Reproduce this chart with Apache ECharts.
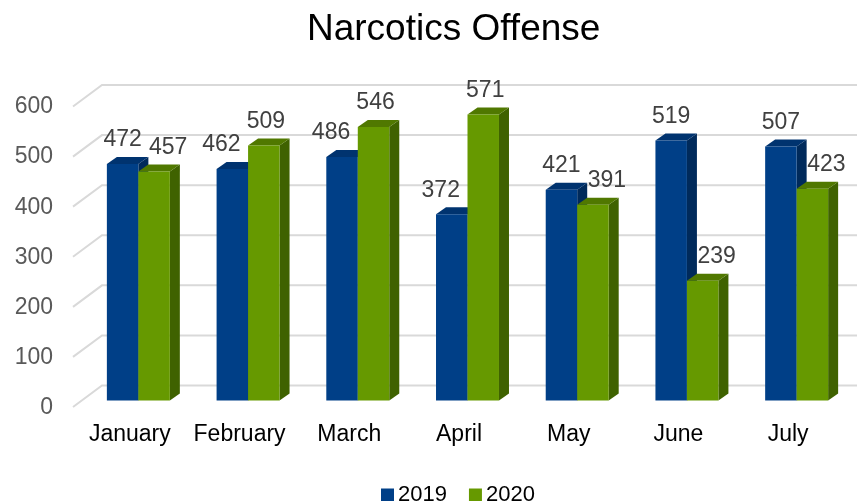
<!DOCTYPE html>
<html>
<head>
<meta charset="utf-8">
<script src="https://cdn.jsdelivr.net/npm/echarts@6/dist/echarts.min.js"></script>
<style>html,body{margin:0;padding:0;background:#fff}#c{width:857px;height:501px}</style>
</head>
<body>
<div id="c"></div>
<script>
const categories = ['January','February','March','April','May','June','July'];
const values2019 = [472, 462, 486, 372, 421, 519, 507];
const values2020 = [457, 509, 546, 571, 391, 239, 423];
const yTicks = [0, 100, 200, 300, 400, 500, 600];
const seriesNames = ['2019', '2020'];

const FONT = '"Liberation Sans", Arial, sans-serif';
const palette = [
  {front: '#003F87', top: '#00336F', side: '#002A5B'},
  {front: '#669900', top: '#507800', side: '#3F6200'}
];
const DX = 10, DY = -7, SHIFT = 8.5, BAR_FRAC = 0.287;

function barRender(sIdx) {
  return function (params, api) {
    const i = api.value(0), v = api.value(1);
    const base = api.coord([i, 0]);
    const top = api.coord([i, v]);
    const w = api.size([1, 0])[0] * BAR_FRAC;
    const cx = base[0] + SHIFT;
    const x0 = sIdx === 0 ? cx - w : cx;
    const x1 = x0 + w;
    const ty = top[1], by = base[1];
    const c = palette[sIdx];
    const other = sIdx === 0 ? values2020[i] : values2019[i];
    let ldx;
    if (sIdx === 0) ldx = other > v ? -11 : 0;
    else ldx = other > v ? 14 : 2;
    return {
      type: 'group',
      children: [
        {type: 'polygon', shape: {points: [[x1, ty], [x1 + DX, ty + DY], [x1 + DX, by + DY], [x1, by]]}, style: {fill: c.side}},
        {type: 'polygon', shape: {points: [[x0, ty], [x0 + DX, ty + DY], [x1 + DX, ty + DY], [x1, ty]]}, style: {fill: c.top}},
        {type: 'rect', shape: {x: x0, y: ty, width: w, height: by - ty}, style: {fill: c.front}},
        {type: 'text', x: (x0 + x1) / 2 + ldx, y: ty - 24,
         style: {text: String(v), fill: '#404040', font: '23px ' + FONT, align: 'center', verticalAlign: 'middle'}}
      ]
    };
  };
}

function gridRender(params, api) {
  const v = api.value(1);
  const y = api.coord([0, v])[1];
  const cs = params.coordSys;
  return {
    type: 'polyline',
    shape: {points: [[cs.x - 2, y + 6.5], [cs.x + 27, y - 15], [cs.x + cs.width + 20, y - 15]]},
    style: {stroke: '#D9D9D9', lineWidth: 2, fill: null}
  };
}

const chart = echarts.init(document.getElementById('c'), null, {renderer: 'canvas'});
chart.setOption({
  animation: false,
  backgroundColor: '#fff',
  textStyle: {fontFamily: FONT},
  title: {
    text: 'Narcotics Offense', left: 302, top: 6,
    textStyle: {fontFamily: FONT, fontSize: 37, fontWeight: 'normal', color: '#000'}
  },
  legend: {
    data: seriesNames, left: 376, top: 479, icon: 'rect', itemWidth: 13, itemHeight: 13, itemGap: 22,
    textStyle: {fontFamily: FONT, fontSize: 22, color: '#000', padding: [0, 0, 0, -1]}
  },
  grid: [
    {left: 75, right: 14, top: 100, bottom: 100.5},
    {left: 73, right: 14, top: 107, bottom: 93.5}
  ],
  xAxis: [
    {type: 'category', gridIndex: 0, data: categories,
     axisLine: {show: false}, axisTick: {show: false},
     axisLabel: {fontFamily: FONT, fontSize: 23, color: '#000', margin: 23, interval: 0}},
    {type: 'category', gridIndex: 1, data: categories, show: false}
  ],
  yAxis: [
    {type: 'value', gridIndex: 0, min: 0, max: 600, interval: 100, show: false, splitLine: {show: false}},
    {type: 'value', gridIndex: 1, min: 0, max: 600, interval: 100,
     axisLine: {show: false}, axisTick: {show: false}, splitLine: {show: false},
     axisLabel: {fontFamily: FONT, fontSize: 23, color: '#595959', margin: 20}}
  ],
  series: [
    {type: 'custom', name: 'grid', xAxisIndex: 0, yAxisIndex: 0, z: 1, silent: true,
     data: yTicks.map(t => [0, t]), encode: {x: 0, y: 1}, renderItem: gridRender},
    {type: 'custom', name: seriesNames[0], xAxisIndex: 0, yAxisIndex: 0, z: 2,
     itemStyle: {color: palette[0].front},
     data: values2019.map((v, i) => [i, v]), encode: {x: 0, y: 1}, renderItem: barRender(0)},
    {type: 'custom', name: seriesNames[1], xAxisIndex: 0, yAxisIndex: 0, z: 2,
     itemStyle: {color: palette[1].front},
     data: values2020.map((v, i) => [i, v]), encode: {x: 0, y: 1}, renderItem: barRender(1)}
  ]
});
</script>
</body>
</html>
